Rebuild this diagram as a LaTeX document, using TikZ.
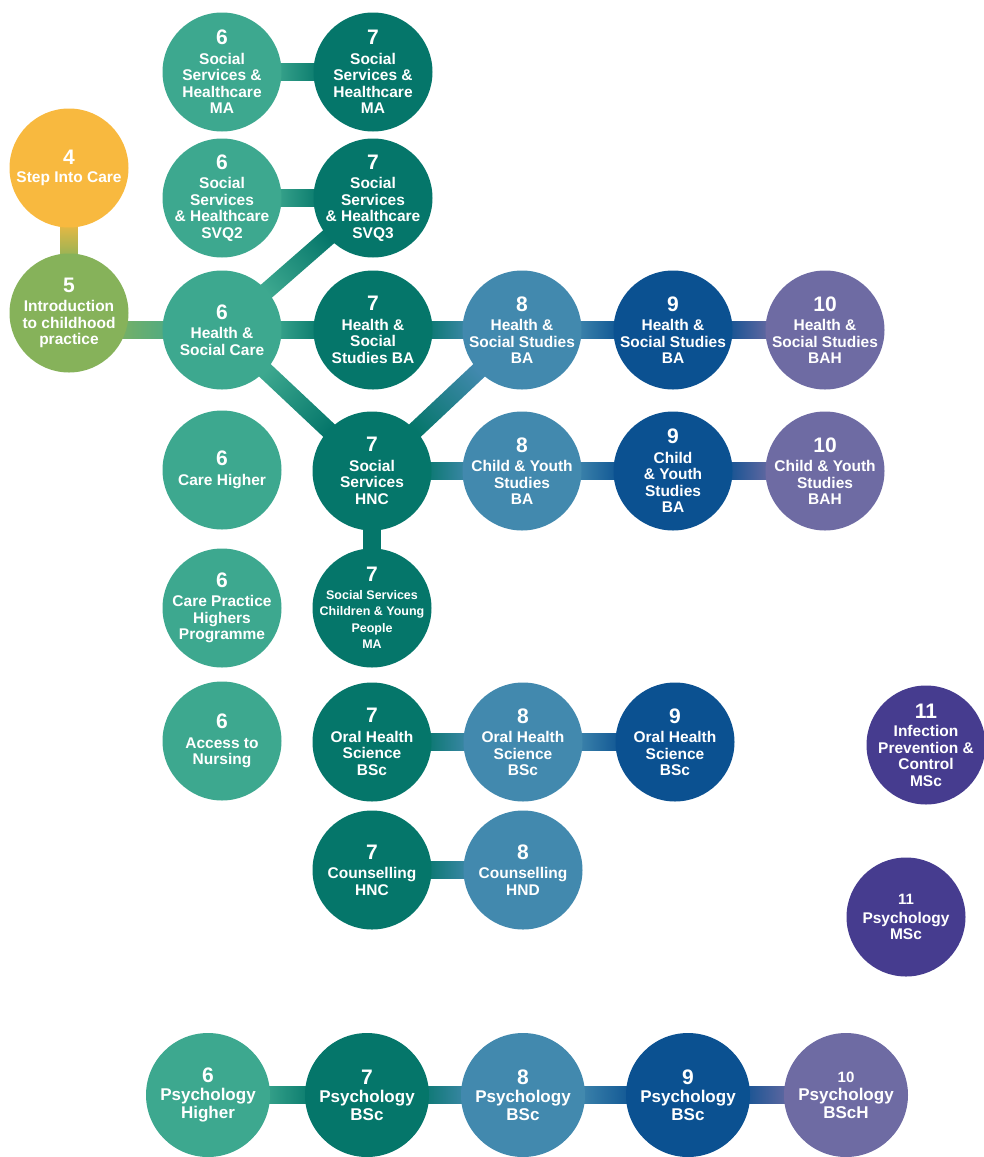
\documentclass[tikz,border=0pt]{standalone}
\usepackage{fontspec}
\setmainfont{Liberation Sans}
\usetikzlibrary{calc}
\definecolor{cfour}{HTML}{F8B93F}
\definecolor{cfive}{HTML}{86B25A}
\definecolor{csix}{HTML}{3DA88F}
\definecolor{cseven}{HTML}{05766A}
\definecolor{ceight}{HTML}{4289AE}
\definecolor{cnine}{HTML}{0B5191}
\definecolor{cten}{HTML}{6E6BA3}
\definecolor{celeven}{HTML}{463C8F}
\pgfdeclarelayer{background}
\pgfsetlayers{background,main}
\newcommand{\lv}[1]{{\fontsize{21}{21}\selectfont #1}}
\newcommand{\lvs}[1]{{\fontsize{15}{15}\selectfont #1}}
% connector between two named nodes / coordinates
\newcommand{\conn}[5][50pt]{%
  \pgfpointdiff{\pgfpointanchor{#2}{center}}{\pgfpointanchor{#3}{center}}%
  \pgfgetlastxy{\cdx}{\cdy}%
  \pgfmathsetmacro{\cang}{atan2(\cdy,\cdx)+90}%
  \path ($(#2.center)!#1!(#3.center)$) coordinate (cP)
        ($(#3.center)!#1!(#2.center)$) coordinate (cQ);
  \shade[left color=#4, right color=#5, shading angle=\cang]
    ($(cP)!8.5pt!90:(cQ)$) -- ($(cQ)!8.5pt!-90:(cP)$) --
    ($(cQ)!8.5pt!90:(cP)$) -- ($(cP)!8.5pt!-90:(cQ)$) -- cycle;
}
\begin{document}
\begin{tikzpicture}[x=1pt,y=1pt,
  lvl/.style={circle, inner sep=-40pt, minimum size=119pt, text=white, align=center,
    font=\bfseries\fontsize{15.5}{16.5}\selectfont},
  small/.style={font=\bfseries\fontsize{12.5}{16.5}\selectfont},
  psy/.style={minimum size=124pt, font=\bfseries\fontsize{17}{18}\selectfont}]
\useasboundingbox (0,0) rectangle (984,-1157);

% column 4/5
\node[lvl, fill=cfour] (step) at (69,-168) {\lv{4}\\[2pt]Step Into Care};
\node[lvl, fill=cfive] (intro) at (69,-313) {\lv{5}\\[3pt]Introduction\\to childhood\\practice};

% column 6
\node[lvl, fill=csix] (sshsix) at (222,-72) {\lv{6}\\[3pt]Social\\Services \&\\Healthcare\\MA};
\node[lvl, fill=csix] (svqtwo) at (222,-198) {\lv{6}\\[3pt]Social\\Services\\\& Healthcare\\SVQ2};
\node[lvl, fill=csix] (hsc) at (222,-330) {\lv{6}\\[3pt]Health \&\\Social Care};
\node[lvl, fill=csix] (carehigher) at (222,-470) {\lv{6}\\[3pt]Care Higher};
\node[lvl, fill=csix] (cph) at (222,-608) {\lv{6}\\[3pt]Care Practice\\Highers\\Programme};
\node[lvl, fill=csix] (atn) at (222,-741) {\lv{6}\\[3pt]Access to\\Nursing};

% column 7
\node[lvl, fill=cseven] (sshseven) at (373,-72) {\lv{7}\\[3pt]Social\\Services \&\\Healthcare\\MA};
\node[lvl, fill=cseven] (svqthree) at (373,-198) {\lv{7}\\[3pt]Social\\Services\\\& Healthcare\\SVQ3};
\node[lvl, fill=cseven] (hssseven) at (373,-330) {\lv{7}\\[3pt]Health \&\\Social\\Studies BA};
\node[lvl, fill=cseven] (hnc) at (372,-471) {\lv{7}\\[3pt]Social\\Services\\HNC};
\node[lvl, small, fill=cseven] (cyp) at (372,-608) {\lv{7}\\[1pt]Social Services\\Children \& Young\\People\\MA};
\node[lvl, fill=cseven] (ohsseven) at (372,-742) {\lv{7}\\[3pt]Oral Health\\Science\\BSc};
\node[lvl, fill=cseven] (couseven) at (372,-870) {\lv{7}\\[3pt]Counselling\\HNC};

% column 8
\node[lvl, fill=ceight] (hsseight) at (522,-330) {\lv{8}\\[3pt]Health \&\\Social Studies\\BA};
\node[lvl, fill=ceight] (cyseight) at (522,-471) {\lv{8}\\[3pt]Child \& Youth\\Studies\\BA};
\node[lvl, fill=ceight] (ohseight) at (523,-742) {\lv{8}\\[3pt]Oral Health\\Science\\BSc};
\node[lvl, fill=ceight] (coueight) at (523,-870) {\lv{8}\\[3pt]Counselling\\HND};

% column 9
\node[lvl, fill=cnine] (hssnine) at (673,-330) {\lv{9}\\[3pt]Health \&\\Social Studies\\BA};
\node[lvl, fill=cnine] (cysnine) at (673,-471) {\lv{9}\\[3pt]Child\\\& Youth\\Studies\\BA};
\node[lvl, fill=cnine] (ohsnine) at (675,-742) {\lv{9}\\[3pt]Oral Health\\Science\\BSc};

% column 10
\node[lvl, fill=cten] (hssten) at (825,-330) {\lv{10}\\[3pt]Health \&\\Social Studies\\BAH};
\node[lvl, fill=cten] (cysten) at (825,-471) {\lv{10}\\[3pt]Child \& Youth\\Studies\\BAH};

% level 11
\node[lvl, fill=celeven] (ipc) at (926,-745) {\lv{11}\\[2pt]Infection\\Prevention \&\\Control\\MSc};
\node[lvl, fill=celeven] (psyeleven) at (906,-917) {\lvs{11}\\[2pt]Psychology\\MSc};

% psychology row
\node[lvl, psy, fill=csix] (psysix) at (208,-1095) {\lv{6}\\Psychology\\Higher};
\node[lvl, psy, fill=cseven] (psyseven) at (367,-1095) {\lv{7}\\Psychology\\BSc};
\node[lvl, psy, fill=ceight] (psyeight) at (523,-1095) {\lv{8}\\Psychology\\BSc};
\node[lvl, psy, fill=cnine] (psynine) at (688,-1095) {\lv{9}\\Psychology\\BSc};
\node[lvl, psy, fill=cten] (psyten) at (846,-1095) {\lvs{10}\\Psychology\\BScH};

% free end of the level-5 connector, level with the level-6 circle
\coordinate (introout) at (intro.center |- hsc.center);

\begin{pgfonlayer}{background}
\conn{step}{intro}{cfour}{cfive}
\conn[30pt]{introout}{hsc}{cfive}{csix}
\conn{sshsix}{sshseven}{csix}{cseven}
\conn{svqtwo}{svqthree}{csix}{cseven}
\conn{hsc}{svqthree}{csix}{cseven}
\conn{hsc}{hssseven}{csix}{cseven}
\conn{hsc}{hnc}{csix}{cseven}
\conn{hssseven}{hsseight}{cseven}{ceight}
\conn{hsseight}{hssnine}{ceight}{cnine}
\conn{hssnine}{hssten}{cnine}{cten}
\conn{hnc}{hsseight}{cseven}{ceight}
\conn{hnc}{cyseight}{cseven}{ceight}
\conn{cyseight}{cysnine}{ceight}{cnine}
\conn{cysnine}{cysten}{cnine}{cten}
\conn{hnc}{cyp}{cseven}{cseven}
\conn{ohsseven}{ohseight}{cseven}{ceight}
\conn{ohseight}{ohsnine}{ceight}{cnine}
\conn{couseven}{coueight}{cseven}{ceight}
\conn{psysix}{psyseven}{csix}{cseven}
\conn{psyseven}{psyeight}{cseven}{ceight}
\conn{psyeight}{psynine}{ceight}{cnine}
\conn{psynine}{psyten}{cnine}{cten}
\end{pgfonlayer}
\end{tikzpicture}
\end{document}
